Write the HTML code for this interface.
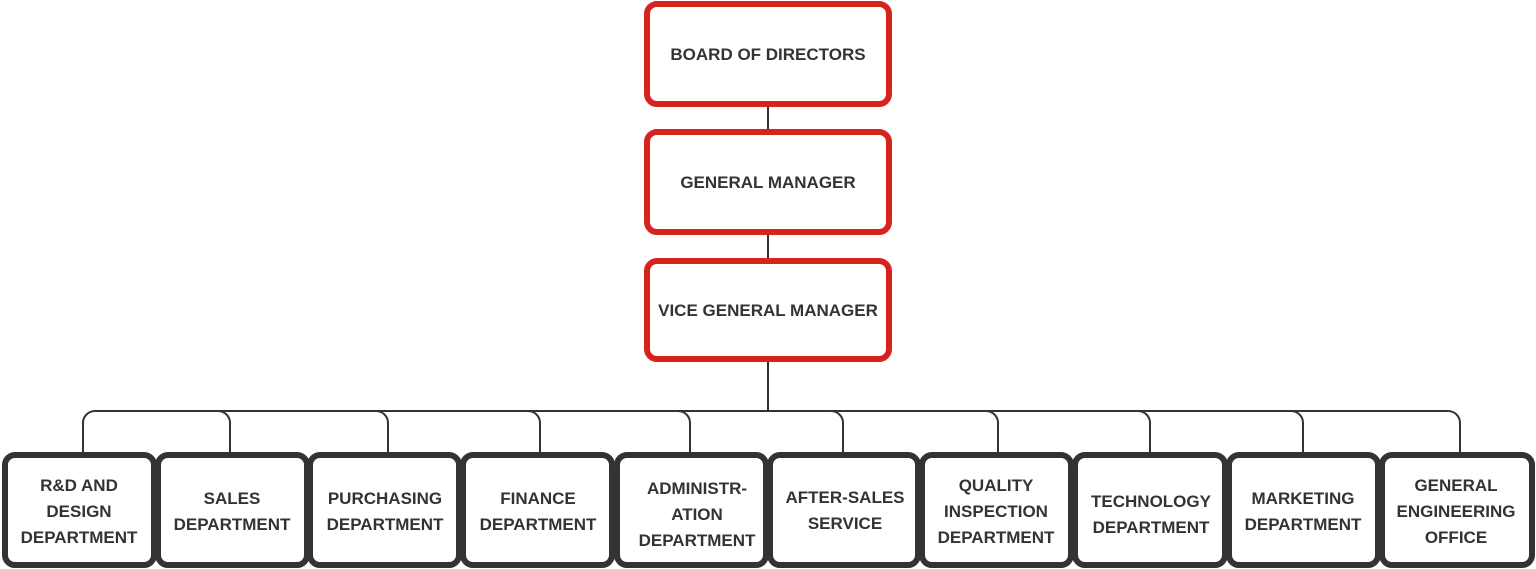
<!DOCTYPE html>
<html><head><meta charset="utf-8"><style>
html,body{margin:0;padding:0;background:#fff;width:1536px;height:569px;overflow:hidden}
text{font-family:"Liberation Sans",sans-serif;font-weight:bold;font-size:17px;fill:#333;text-anchor:middle}
</style></head><body>
<svg width="1536" height="569" viewBox="0 0 1536 569" xmlns="http://www.w3.org/2000/svg">
<g stroke="#333" stroke-width="2" fill="none">
<line x1="768" y1="106" x2="768" y2="130"/>
<line x1="768" y1="235" x2="768" y2="259"/>
<line x1="768" y1="362" x2="768" y2="411"/>
<path d="M83 452 V423 A12 12 0 0 1 95 411 H1448 A12 12 0 0 1 1460 423 V452"/>
<path d="M218 411 A12 12 0 0 1 230 423 V452"/>
<path d="M376 411 A12 12 0 0 1 388 423 V452"/>
<path d="M528 411 A12 12 0 0 1 540 423 V452"/>
<path d="M678 411 A12 12 0 0 1 690 423 V452"/>
<path d="M831 411 A12 12 0 0 1 843 423 V452"/>
<path d="M986 411 A12 12 0 0 1 998 423 V452"/>
<path d="M1138 411 A12 12 0 0 1 1150 423 V452"/>
<path d="M1291 411 A12 12 0 0 1 1303 423 V452"/>
</g>
<g stroke="#d5231d" stroke-width="6" fill="#fff">
<rect x="647" y="4" width="242" height="100" rx="10"/>
<rect x="647" y="132" width="242" height="100" rx="10"/>
<rect x="647" y="261" width="242" height="98" rx="10"/>
</g>
<text x="768" y="60">BOARD OF DIRECTORS</text>
<text x="768" y="188">GENERAL MANAGER</text>
<text x="768" y="316">VICE GENERAL MANAGER</text>
<g stroke="#333" stroke-width="6" fill="#fff">
<rect x="5" y="455" width="149" height="110" rx="10"/>
<rect x="158" y="455" width="149" height="110" rx="10"/>
<rect x="310" y="455" width="149" height="110" rx="10"/>
<rect x="463" y="455" width="149" height="110" rx="10"/>
<rect x="617" y="455" width="149" height="110" rx="10"/>
<rect x="770" y="455" width="148" height="110" rx="10"/>
<rect x="922" y="455" width="149" height="110" rx="10"/>
<rect x="1075" y="455" width="150" height="110" rx="10"/>
<rect x="1229" y="455" width="149" height="110" rx="10"/>
<rect x="1382" y="455" width="150" height="110" rx="10"/>
</g>
<text x="79" y="491">R&amp;D AND</text><text x="79" y="517">DESIGN</text><text x="79" y="543">DEPARTMENT</text>
<text x="232" y="504">SALES</text><text x="232" y="530">DEPARTMENT</text>
<text x="385" y="504">PURCHASING</text><text x="385" y="530">DEPARTMENT</text>
<text x="538" y="504">FINANCE</text><text x="538" y="530">DEPARTMENT</text>
<text x="697" y="494">ADMINISTR-</text><text x="697" y="520">ATION</text><text x="697" y="546">DEPARTMENT</text>
<text x="845" y="503">AFTER-SALES</text><text x="845" y="529">SERVICE</text>
<text x="996" y="491">QUALITY</text><text x="996" y="517">INSPECTION</text><text x="996" y="543">DEPARTMENT</text>
<text x="1151" y="507">TECHNOLOGY</text><text x="1151" y="533">DEPARTMENT</text>
<text x="1303" y="504">MARKETING</text><text x="1303" y="530">DEPARTMENT</text>
<text x="1456" y="491">GENERAL</text><text x="1456" y="517">ENGINEERING</text><text x="1456" y="543">OFFICE</text>
</svg>
</body></html>
